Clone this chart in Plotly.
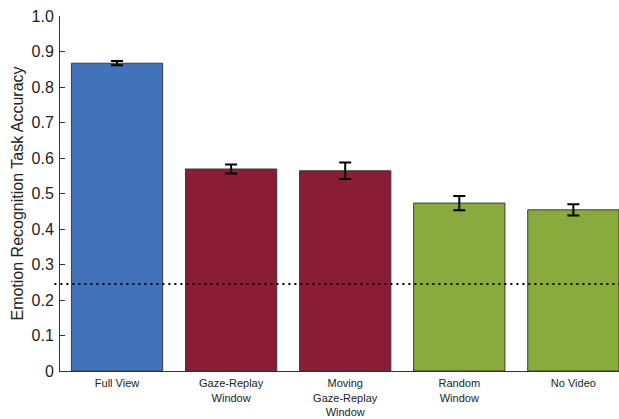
import plotly.graph_objects as go

categories = ["Full View", "Gaze-Replay<br>Window", "Moving<br>Gaze-Replay<br>Window", "Random<br>Window", "No Video"]
accuracy = [0.867, 0.569, 0.564, 0.473, 0.454]
error = [0.006, 0.013, 0.023, 0.020, 0.016]
bar_colors = ["#4272BA", "#8A1C35", "#8A1C35", "#89AB3E", "#89AB3E"]
chance_level = 0.245
y_ticks = [0, 0.1, 0.2, 0.3, 0.4, 0.5, 0.6, 0.7, 0.8, 0.9, 1.0]
y_tick_labels = ["0", "0.1", "0.2", "0.3", "0.4", "0.5", "0.6", "0.7", "0.8", "0.9", "1.0"]

font_family = "Liberation Sans, Arial, Helvetica, sans-serif"

fig = go.Figure()
fig.add_trace(go.Bar(
    x=list(range(len(categories))),
    y=accuracy,
    marker=dict(color=bar_colors, line=dict(color="#3a3a3a", width=1)),
    error_y=dict(type="data", array=error, visible=True, color="black", thickness=2, width=6),
    width=0.8,
))

fig.add_shape(type="line", xref="paper", yref="y", x0=-0.01, x1=1, y0=chance_level, y1=chance_level,
              line=dict(color="black", width=2, dash="2px,4px"), layer="above")

fig.update_layout(
    width=619, height=419,
    margin=dict(l=60, r=0, t=16, b=48),
    paper_bgcolor="white", plot_bgcolor="white",
    showlegend=False,
    font=dict(family=font_family, color="#222222"),
    xaxis=dict(
        range=[-0.5, 4.4],
        tickmode="array",
        tickvals=list(range(len(categories))),
        ticktext=categories,
        tickfont=dict(size=11, color="#222222"),
        ticklabelstandoff=2,
        showline=True, linecolor="#333333", linewidth=1,
        ticks="", showgrid=False, zeroline=False,
        automargin=False,
    ),
    yaxis=dict(
        range=[0, 1.0],
        tickmode="array",
        tickvals=y_ticks,
        ticktext=y_tick_labels,
        tickfont=dict(size=16, color="#222222"),
        ticks="inside", ticklen=5, tickcolor="#333333", tickwidth=1,
        ticklabelstandoff=2,
        showline=True, linecolor="#333333", linewidth=1,
        showgrid=False, zeroline=False,
        title=dict(text="Emotion Recognition Task Accuracy", font=dict(size=16, color="#222222"), standoff=3),
        automargin=False,
    ),
)

fig.write_html("out.html")
